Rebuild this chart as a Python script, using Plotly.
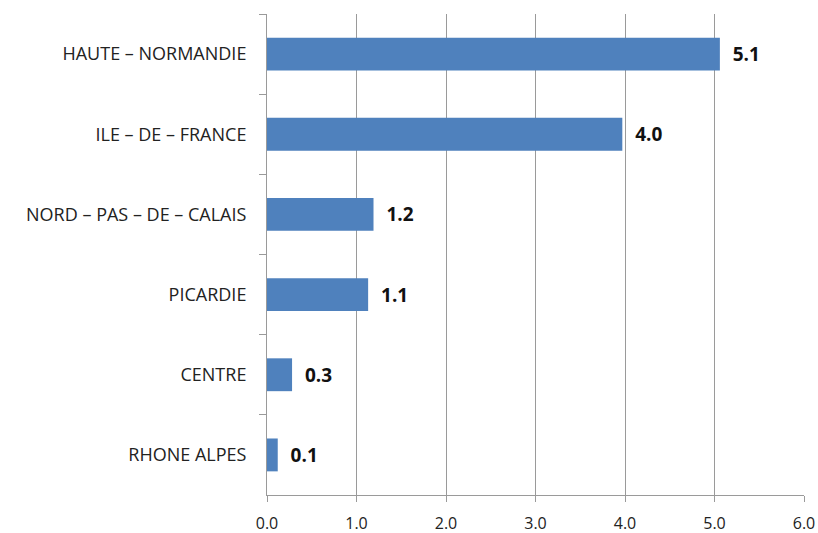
import plotly.graph_objects as go

regions = ["HAUTE – NORMANDIE", "ILE – DE – FRANCE", "NORD – PAS – DE – CALAIS",
           "PICARDIE", "CENTRE", "RHONE ALPES"]
values = [5.06, 3.97, 1.19, 1.13, 0.28, 0.12]
labels = ["5.1", "4.0", "1.2", "1.1", "0.3", "0.1"]

fig = go.Figure()

fig.add_trace(go.Bar(
    x=values,
    y=regions,
    orientation="h",
    width=0.41,
    marker_color="#4F81BD",
    marker_line_width=0,
    text=["  <b>" + t + "</b>" for t in labels],
    textposition="outside",
    textfont=dict(size=19, color="#111", family="Open Sans"),
    cliponaxis=False,
))

fig.update_layout(
    width=818, height=533,
    margin=dict(l=267, r=14, t=14, b=38),
    paper_bgcolor="white", plot_bgcolor="white",
    showlegend=False,
    font=dict(family="Open Sans", size=16, color="#222"),
)

fig.update_xaxes(range=[0, 6], dtick=1, tickformat=".1f",
                 showgrid=True, gridcolor="#9a9a9a", gridwidth=1,
                 showline=True, linecolor="#9a9a9a", linewidth=1,
                 ticks="outside", ticklen=6, tickcolor="#9a9a9a",
                 ticklabelstandoff=8,
                 zeroline=False, tickfont=dict(size=16), automargin=False)
fig.update_yaxes(autorange="reversed", showgrid=False,
                 showline=True, linecolor="#9a9a9a", linewidth=1,
                 ticks="outside", tickson="boundaries", ticklen=7, tickcolor="#9a9a9a",
                 ticklabelstandoff=16, tickfont=dict(size=18), automargin=False)

# drop the default 8px body margin so the figure sits flush in the window
fig.write_html("out.html", config={"displayModeBar": False},
               post_script="document.body.style.margin='0';")
